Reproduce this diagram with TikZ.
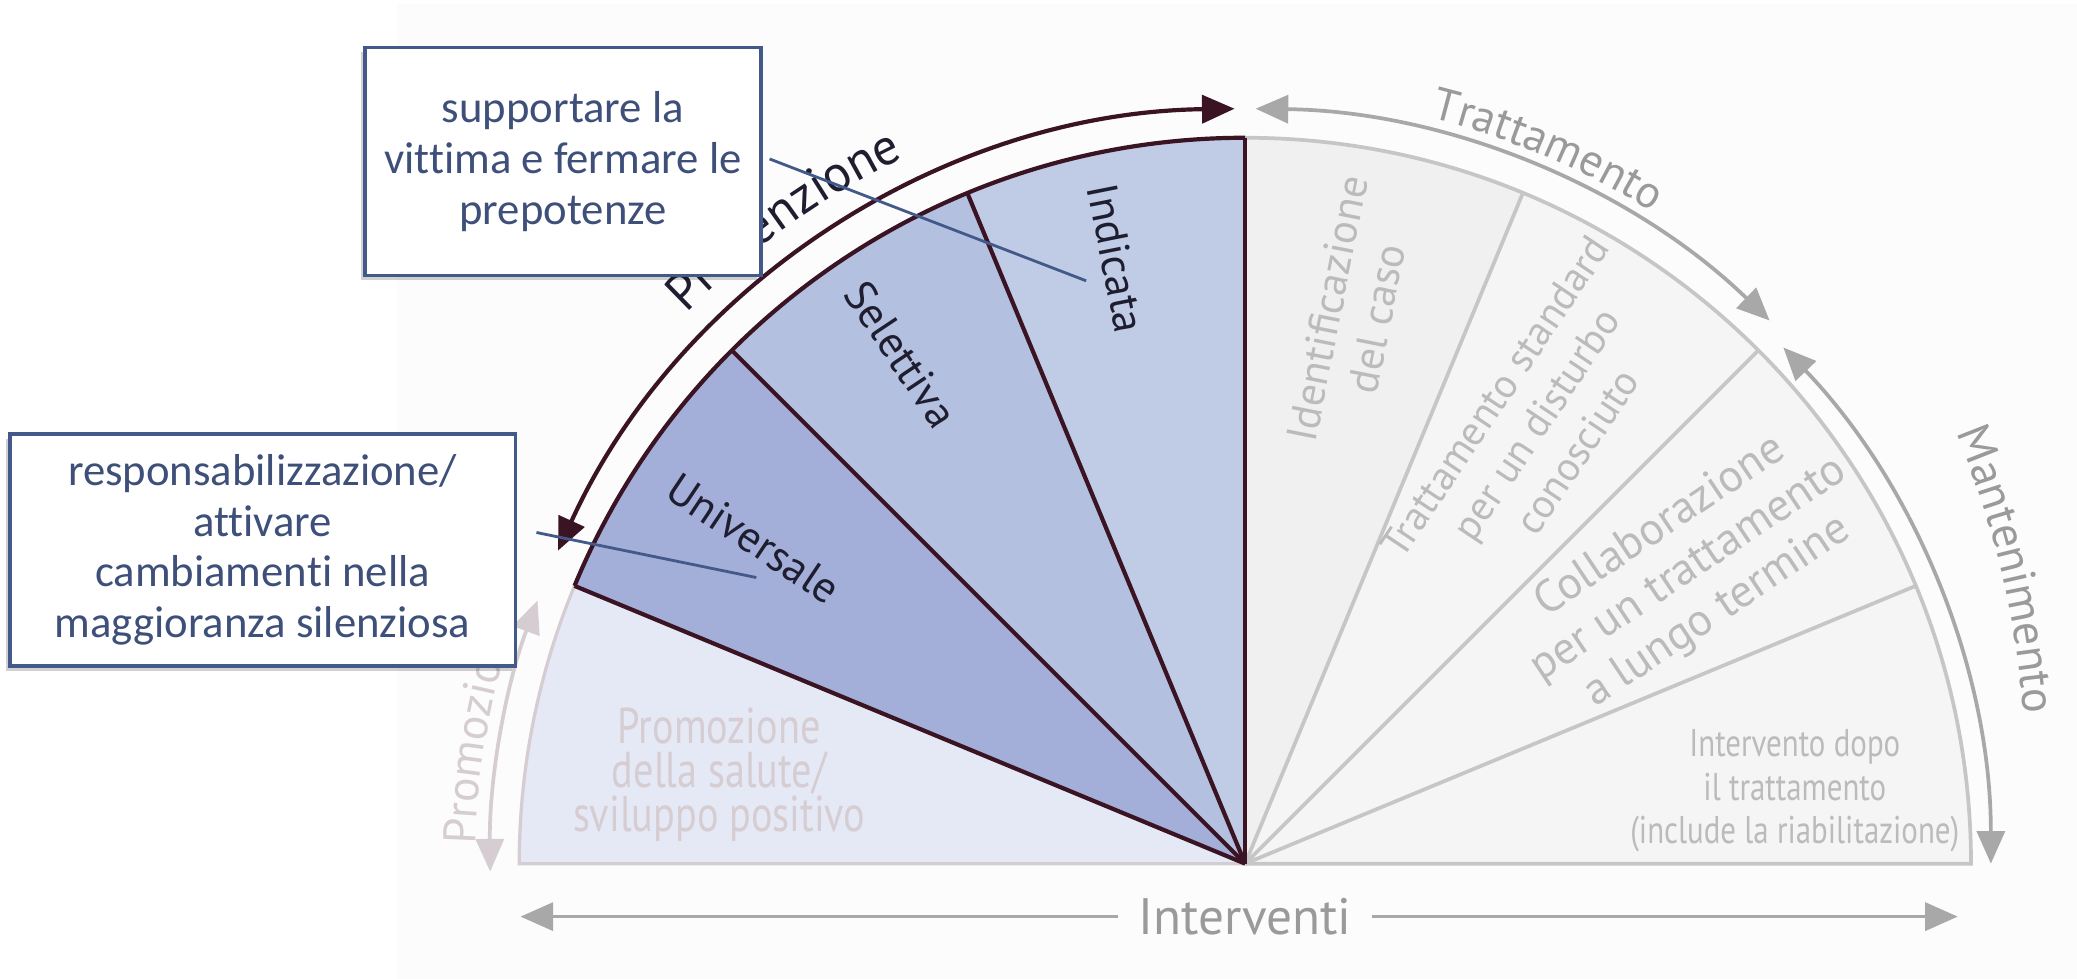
\documentclass[tikz,border=0pt]{standalone}
\usepackage{fontspec}
\newfontfamily\labfont{PT Sans}
\newfontfamily\condfont[FakeStretch=0.8]{PT Sans}
\newfontfamily\boxfont[Ligatures=NoCommon]{Carlito}
\usetikzlibrary{arrows.meta}
\usetikzlibrary{decorations.text}
\usetikzlibrary{shadows}

\definecolor{bgpaper}{HTML}{FCFCFC}
\definecolor{promofill}{HTML}{E5E8F5}
\definecolor{univfill}{HTML}{A3AFD8}
\definecolor{selfill}{HTML}{B4C0E0}
\definecolor{indfill}{HTML}{C0CBE6}
\definecolor{trfill}{HTML}{F5F5F5}
\definecolor{idfill}{HTML}{F0F0F0}
\definecolor{maroon}{HTML}{3B1424}
\definecolor{greyline}{HTML}{C6C6C6}
\definecolor{greyarrow}{HTML}{A8A8A8}
\definecolor{pinkgrey}{HTML}{D6CDD2}
\definecolor{greytext}{HTML}{BBBBBB}
\definecolor{arctext}{HTML}{9A9A9A}
\definecolor{darktext}{HTML}{1E1E30}
\definecolor{boxline}{HTML}{42598A}
\definecolor{boxtext}{HTML}{3E5079}

\begin{document}
\begin{tikzpicture}[x=0.01cm, y=0.01cm,
		secline/.style={draw=maroon, line width=0.9pt},
		greysec/.style={draw=greyline, line width=0.8pt},
		prevarrow/.style={draw=maroon, line width=0.9pt, {Triangle[length=7pt,width=6pt]}-{Triangle[length=7pt,width=6pt]}},
		grarrow/.style={draw=greyarrow, line width=0.8pt, {Triangle[length=7pt,width=6pt]}-{Triangle[length=7pt,width=6pt]}},
		promoarrow/.style={draw=pinkgrey, line width=0.8pt, {Triangle[length=7pt,width=6pt]}-{Triangle[length=7pt,width=6pt]}},
		intarrow/.style={draw=greyarrow, line width=0.8pt, -{Triangle[length=7pt,width=6pt]}},
		seclab/.style={font=\labfont\fontsize{9.4}{11}\selectfont, text=darktext},
		greylab/.style={font=\labfont\fontsize{9.2}{10.8}\selectfont, text=greytext, align=center},
		dopolab/.style={font=\condfont\fontsize{8.3}{9.4}\selectfont, text=greytext, align=center},
		promolab/.style={font=\condfont\fontsize{10.8}{9.4}\selectfont, text=pinkgrey, align=center},
		intlab/.style={font=\labfont\fontsize{11}{13}\selectfont, text=arctext, inner xsep=4.3pt},
		callbox/.style={draw=boxline, line width=0.8pt, fill=white, text=boxtext, align=center,
			font=\boxfont\fontsize{9.6}{10.9}\selectfont,
			drop shadow={shadow xshift=-0.8pt, shadow yshift=-1pt, fill=black, opacity=0.18}},
		callline/.style={draw=boxline, line width=0.6pt}
	]
		\useasboundingbox (-940,-87) rectangle (628,652);
		\fill[bgpaper] (-640,-87) rectangle (628,649);
		
		% trattamento side
		\fill[idfill] (0,0) -- (90:548) arc[start angle=90, end angle=67.5, radius=548] -- cycle;
		\fill[trfill] (0,0) -- (67.5:548) arc[start angle=67.5, end angle=0, radius=548] -- cycle;
		\foreach \a in {67.5,45,22.5}
			\draw[greysec] (0,0) -- (\a:548);
		\draw[greysec] (0,0) -- (548,0) arc[start angle=0, end angle=90, radius=548];
		
		% prevenzione side
		\fill[promofill] (0,0) -- (-548,0) arc[start angle=180, end angle=157.5, radius=548] -- cycle;
		\draw[pinkgrey, line width=0.7pt] (0,0) -- (-548,0) arc[start angle=180, end angle=157.5, radius=548];
		\fill[univfill] (0,0) -- (157.5:548) arc[start angle=157.5, end angle=135, radius=548] -- cycle;
		\fill[selfill] (0,0) -- (135:548) arc[start angle=135, end angle=112.5, radius=548] -- cycle;
		\fill[indfill] (0,0) -- (112.5:548) arc[start angle=112.5, end angle=90, radius=548] -- cycle;
		\foreach \a in {157.5,135,112.5,90}
			\draw[secline] (0,0) -- (\a:548);
		\draw[secline] (157.5:548) arc[start angle=157.5, end angle=90, radius=548];
		
		% outer arrows
		\draw[prevarrow] (155.5:570) arc[start angle=155.5, end angle=90.8, radius=570];
		\draw[grarrow] (89.2:570) arc[start angle=89.2, end angle=46, radius=570];
		\draw[grarrow] (43.8:563) arc[start angle=43.8, end angle=0, radius=563];
		\draw[promoarrow] (159.6:570) arc[start angle=159.6, end angle=180.6, radius=570];
		
		\path[decorate, decoration={text along path, text align=center,
			text={|\labfont\fontsize{11}{13}\selectfont\color{darktext}|Prevenzione}}]
			(149.6:592) arc[start angle=149.6, end angle=101.6, radius=592];
		\path[decorate, decoration={text along path, text align=center,
			text={|\labfont\fontsize{9.8}{12}\selectfont\color{arctext}|Trattamento}}]
			(85:580) arc[start angle=85, end angle=49, radius=580];
		\path[decorate, decoration={text along path, text align=center,
			text={|\labfont\fontsize{10}{12}\selectfont\color{arctext}|Mantenimento}}]
			(-100,60) ++(28:690) arc[start angle=28, end angle=-1, radius=690];
		\path[decorate, decoration={text along path, text align=left,
			text={|\labfont\fontsize{9.8}{12}\selectfont\color{pinkgrey}|Promozione}}]
			(178.6:581) arc[start angle=178.6, end angle=150, radius=581];
		
		\node[seclab, rotate=-33.75] (univ) at (146.5:445) {Universale};
		\node[seclab, rotate=-56.25] (selet) at (124:464) {Selettiva};
		\node[seclab, rotate=-78.75] (indic) at (102:467) {Indicata};
		
		\node[greylab, rotate=78.75] (ident) at (79:423) {Identificazione\\del caso};
		\node[greylab, rotate=56.25, font=\labfont\fontsize{8.8}{10.6}\selectfont] (tstd) at (56.5:398) {Trattamento standard\\per un disturbo\\conosciuto};
		\node[greylab, rotate=33.75, font=\labfont\fontsize{9.8}{11}\selectfont] (collab) at (33.5:402) {Collaborazione\\per un trattamento\\a lungo termine};
		\node[dopolab] (dopo) at (415,55) {Intervento dopo\\il trattamento\\(include la riabilitazione)};
		\node[promolab] (salute) at (-397,67) {Promozione\\della salute/\\sviluppo positivo};
		
		\node[intlab] (interv) at (0,-40) {Interventi};
		\coordinate (intleft) at (-547,-40);
		\coordinate (intright) at (538,-40);
		\draw[intarrow] (interv.west) -- (intleft);
		\draw[intarrow] (interv.east) -- (intright);
		
		% callouts
		\coordinate (vittimafoot) at (-359,532);
		\coordinate (vittimatip) at (-120,440);
		\coordinate (maggiorfoot) at (-535,250);
		\coordinate (maggiortip) at (-369,216);
		\draw[callline] (vittimafoot) -- (vittimatip);
		\draw[callline] (maggiorfoot) -- (maggiortip);
		\node[callbox, minimum width=2.99cm, minimum height=1.72cm] (vittima) at (-515,530)
			{supportare la\\vittima e fermare le\\prepotenze};
		\node[callbox, minimum width=3.815cm, minimum height=1.75cm] (maggior) at (-741.75,236.85)
			{responsabilizzazione/\\attivare\\cambiamenti nella\\maggioranza silenziosa};
	\end{tikzpicture}
\end{document}
